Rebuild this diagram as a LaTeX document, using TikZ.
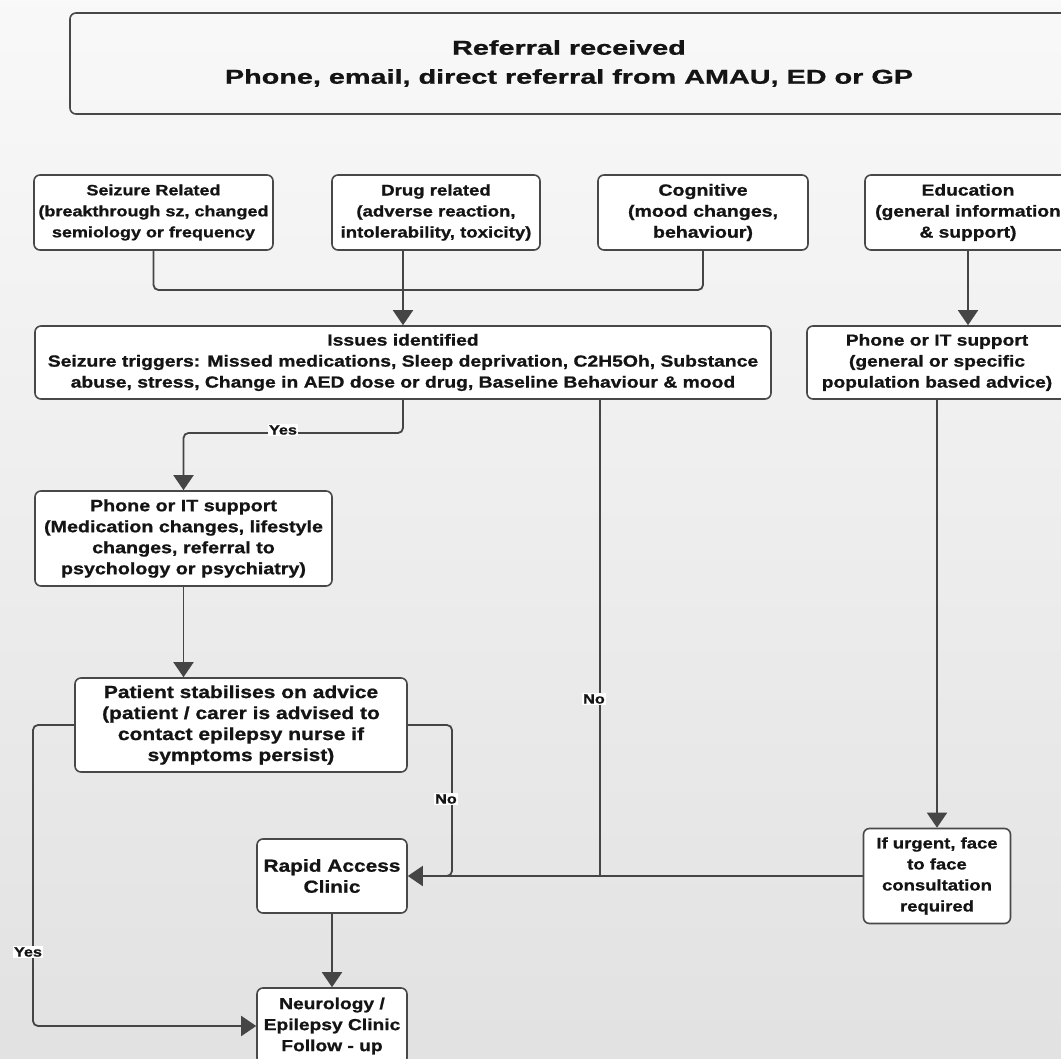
\documentclass[tikz,border=0pt]{standalone}
\usepackage{fontspec}
\setmainfont{Liberation Sans}
\newfontfamily\bodyf[FakeStretch=1.2,FakeBold=1]{Liberation Sans}
\newfontfamily\topf[FakeStretch=1.44,FakeBold=1]{Liberation Sans}
\usetikzlibrary{arrows.meta,calc}
\definecolor{ln}{HTML}{454545}
\definecolor{bd}{HTML}{484848}
\begin{document}
\begin{tikzpicture}[x=1pt,y=-1pt,
  box/.style={draw=bd, line width=1.6pt, rounded corners=6pt, fill=white,
    inner sep=0pt, align=center, text=black!92},
  fs/.style={font=\bodyf\bfseries\fontsize{#1}{21}\selectfont},
  conn/.style={draw=ln, line width=1.8pt, rounded corners=5pt},
  arr/.style={conn, -{Triangle[width=20pt,length=15pt]}},
  lbl/.style={fill=white, inner sep=1pt, text=black!92,
    font=\bodyf\bfseries\fontsize{13.5}{15}\selectfont}
]
\useasboundingbox (0,0) rectangle (1061,1059);
\shade[top color=gray!5, bottom color=gray!23] (0,0) rectangle (1061,1059);

% nodes
\node[box, fill=none, minimum width=998pt, minimum height=101pt,
  font=\topf\bfseries\fontsize{20}{29}\selectfont] (top) at (569,63.5)
  {Referral received\\Phone, email, direct referral from AMAU, ED or GP};

\node[box, fs=15, minimum width=239pt, minimum height=75pt] (seiz) at (153.5,212.5)
  {Seizure Related\\(breakthrough sz, changed\\semiology or frequency};
\node[box, fs=15.5, minimum width=208pt, minimum height=75pt] (drug) at (436,212.5)
  {Drug related\\(adverse reaction,\\intolerability, toxicity)};
\node[box, fs=16.3, minimum width=210pt, minimum height=75pt] (cog) at (703,212.5)
  {Cognitive\\(mood changes,\\behaviour)};
\node[box, fs=16, minimum width=206pt, minimum height=75pt] (edu) at (968,212.5)
  {Education\\(general information\\\& support)};

\node[box, fs=16.1, minimum width=736pt, minimum height=73pt] (iss) at (403,362.5)
  {Issues identified\\Seizure triggers: Missed medications, Sleep deprivation, C2H5Oh, Substance\\abuse, stress, Change in AED dose or drug, Baseline Behaviour \& mood};
\node[box, fs=16, minimum width=260pt, minimum height=73pt] (phr) at (937,362.5)
  {Phone or IT support\\(general or specific\\population based advice)};

\node[box, fs=16.4, minimum width=297pt, minimum height=95pt] (phl) at (183.5,538.5)
  {Phone or IT support\\(Medication changes, lifestyle\\changes, referral to\\psychology or psychiatry)};
\node[box, fs=17.5, minimum width=332pt, minimum height=94pt] (pat) at (241,725)
  {Patient stabilises on advice\\(patient / carer is advised to\\contact epilepsy nurse if\\symptoms persist)};

\node[box, fs=17.4, minimum width=150pt, minimum height=74pt] (rap) at (332,876)
  {Rapid Access\\Clinic};
\node[box, fs=16, minimum width=150pt, minimum height=76pt] (neu) at (332,1026)
  {Neurology /\\Epilepsy Clinic\\Follow - up};
\node[box, fs=15.4, minimum width=147pt, minimum height=95pt] (urg) at (937,876)
  {If urgent, face\\to face\\consultation\\required};

% helper coordinates
\coordinate (j) at (403,290);
\coordinate (ybend) at (403,433);
\coordinate (nox) at (600,0);
\coordinate (nx2) at (452,0);
\coordinate (yx) at (33,0);

% connectors
\draw[conn] (seiz.south) |- (j);
\draw[conn] (cog.south) |- (j);
\draw[arr] (drug.south -| iss.north) -- (iss.north);
\draw[arr] (edu.south) -- (edu.south |- phr.north);

\draw[arr] (iss.south) -- (ybend) -| (phl.north);
\node[lbl] (lyes1) at (283,430) {Yes};

\draw[conn] (iss.south -| nox) -- (nox |- rap.east);
\node[lbl] (lno1) at (594,699) {No};

\draw[arr] (phr.south) -- (urg.north);
\draw[conn] (pat.east) -| (nx2 |- rap.east) -- ($(rap.east)+(20,0)$);
\draw[arr] (urg.west) -- (rap.east);
\node[lbl] (lno2) at (446,799) {No};

\draw[arr] (phl.south) -- (phl.south |- pat.north);
\draw[arr] (pat.west) -| (yx |- neu.west) -- (neu.west);
\node[lbl] (lyes2) at (28,952) {Yes};

\draw[arr] (rap.south) -- (neu.north);
\end{tikzpicture}
\end{document}
